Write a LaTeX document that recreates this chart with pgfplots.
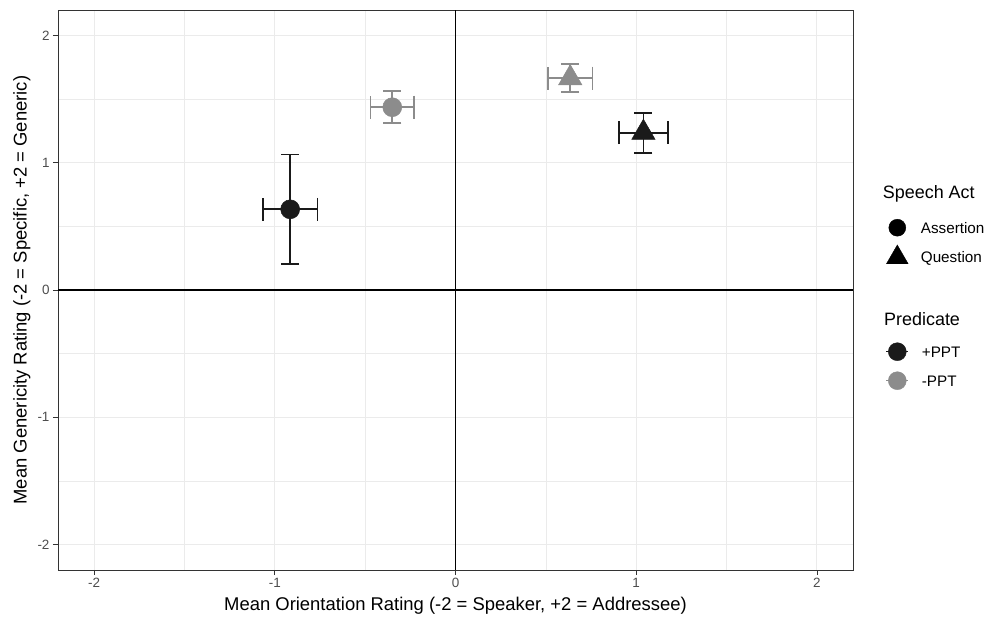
\documentclass[border=0pt]{standalone}
\usepackage{fontspec}
\setmainfont{Liberation Sans}
\usepackage{pgfplots}
\usepackage{pgfplotstable}
\pgfplotsset{compat=1.18}
\definecolor{ppt}{HTML}{1A1A1A}
\definecolor{nppt}{HTML}{8C8C8C}
\definecolor{gridc}{HTML}{EBEBEB}
\definecolor{tickc}{HTML}{4D4D4D}
\definecolor{bord}{HTML}{333333}

\pgfplotstableread{
x y ex ey
-0.915 0.634 0.151 0.431
}\AssertPlus
\pgfplotstableread{
x y ex ey
-0.350 1.436 0.121 0.126
}\AssertMinus
\pgfplotstableread{
x y ex ey
0.635 1.665 0.123 0.111
}\QuestMinus
\pgfplotstableread{
x y ex ey
1.040 1.236 0.137 0.157
}\QuestPlus

\pgfplotsset{
  ybars/.style={forget plot, only marks, mark=none, error bars/.cd, y dir=both, y explicit,
    error bar style={#1, line width=1.7bp}, error mark options={#1, line width=1.7bp, mark size=9bp, rotate=90}},
  xbars/.style={forget plot, only marks, mark=none, error bars/.cd, x dir=both, x explicit,
    error bar style={#1, line width=1.7bp}, error mark options={#1, line width=1.7bp, mark size=11.5bp, rotate=90}},
}

\begin{document}
\begin{tikzpicture}
\path[use as bounding box] (-58bp,-48bp) rectangle (929bp,570bp);
\begin{axis}[
  at={(0,0)}, anchor=south west, scale only axis,
  width=795bp, height=560bp,
  xmin=-2.2, xmax=2.2, ymin=-2.2, ymax=2.2,
  xtick={-2,-1,0,1,2}, xticklabels={-2,-1,0,1,2},
  ytick={-2,-1,0,1,2}, yticklabels={-2,-1,0,1,2},
  minor tick num=1,
  grid=both,
  major grid style={color=gridc, line width=1.1bp},
  minor grid style={color=gridc, line width=0.55bp},
  minor tick length=0pt,
  major tick length=5bp,
  tick align=outside,
  xtick pos=bottom, ytick pos=left,
  tick style={color=bord, line width=0.7bp},
  axis line style={color=bord, line width=0.7bp},
  ticklabel style={font=\fontsize{13.5}{16}\selectfont, text=tickc},
  xlabel={Mean Orientation Rating (-2 = Speaker, +2 = Addressee)},
  ylabel={Mean Genericity Rating (-2 = Specific, +2 = Generic)},
  xlabel style={font=\fontsize{18.5}{22}\selectfont, at={(axis description cs:0.5,-0.0643)}, anchor=center, inner sep=0pt},
  ylabel style={font=\fontsize{18.5}{22}\selectfont, at={(axis description cs:-0.0453,0.5)}, anchor=center, inner sep=0pt},
]
% zero lines
\addplot[black, line width=1.3bp, forget plot] coordinates {(-2.2,0) (2.2,0)};
\addplot[black, line width=1.3bp, forget plot] coordinates {(0,-2.2) (0,2.2)};

% error bars
\addplot[ybars=ppt]  table[x=x, y=y, y error=ey] {\AssertPlus};
\addplot[xbars=ppt]  table[x=x, y=y, x error=ex] {\AssertPlus};
\addplot[ybars=ppt]  table[x=x, y=y, y error=ey] {\QuestPlus};
\addplot[xbars=ppt]  table[x=x, y=y, x error=ex] {\QuestPlus};
\addplot[ybars=nppt] table[x=x, y=y, y error=ey] {\AssertMinus};
\addplot[xbars=nppt] table[x=x, y=y, x error=ex] {\AssertMinus};
\addplot[ybars=nppt] table[x=x, y=y, y error=ey] {\QuestMinus};
\addplot[xbars=nppt] table[x=x, y=y, x error=ex] {\QuestMinus};

% points
\addplot[forget plot, only marks, mark=*, mark size=9.5bp, draw=ppt, fill=ppt, line width=0.5bp] table[x=x, y=y] {\AssertPlus};
\addplot[forget plot, only marks, mark=*, mark size=9.5bp, draw=nppt, fill=nppt, line width=0.5bp] table[x=x, y=y] {\AssertMinus};
\addplot[forget plot, only marks, mark=triangle*, mark size=13.5bp, draw=ppt, fill=ppt, line width=0.5bp] table[x=x, y=y] {\QuestPlus};
\addplot[forget plot, only marks, mark=triangle*, mark size=13.5bp, draw=nppt, fill=nppt, line width=0.5bp] table[x=x, y=y] {\QuestMinus};
\end{axis}

% legend area, in pixel-like units
\begin{axis}[
  at={(802bp,170bp)}, anchor=south west, scale only axis,
  width=127bp, height=230bp,
  xmin=860, xmax=987, ymin=170, ymax=400, y dir=reverse,
  hide axis, clip=false,
]
\addplot[forget plot, only marks, mark=*, mark size=8.5bp, black] coordinates {(897.3,227.7)};
\addplot[forget plot, only marks, mark=triangle*, mark size=12.5bp, black, line width=0.4bp] coordinates {(897.3,257.5)};
\addplot[forget plot, ppt, line width=1.2bp] coordinates {(886.3,351.7) (908.3,351.7)};
\addplot[forget plot, only marks, mark=*, mark size=9bp, draw=ppt, fill=ppt] coordinates {(897.3,351.7)};
\addplot[forget plot, nppt, line width=1.2bp] coordinates {(886.3,380.7) (908.3,380.7)};
\addplot[forget plot, only marks, mark=*, mark size=9bp, draw=nppt, fill=nppt] coordinates {(897.3,380.7)};
\node[anchor=base west, inner sep=0pt, font=\fontsize{18}{21}\selectfont] at (axis cs:882.7,198.3) {Speech Act};
\node[anchor=base west, inner sep=0pt, font=\fontsize{15.3}{18}\selectfont] at (axis cs:920.7,233.8) {Assertion};
\node[anchor=base west, inner sep=0pt, font=\fontsize{15.3}{18}\selectfont] at (axis cs:920.7,262.8) {Question};
\node[anchor=base west, inner sep=0pt, font=\fontsize{18}{21}\selectfont] at (axis cs:884,325) {Predicate};
\node[anchor=base west, inner sep=0pt, font=\fontsize{15.3}{18}\selectfont] at (axis cs:921.7,357.2) {+PPT};
\node[anchor=base west, inner sep=0pt, font=\fontsize{15.3}{18}\selectfont] at (axis cs:921.7,386.2) {-PPT};
\end{axis}
\end{tikzpicture}
\end{document}
